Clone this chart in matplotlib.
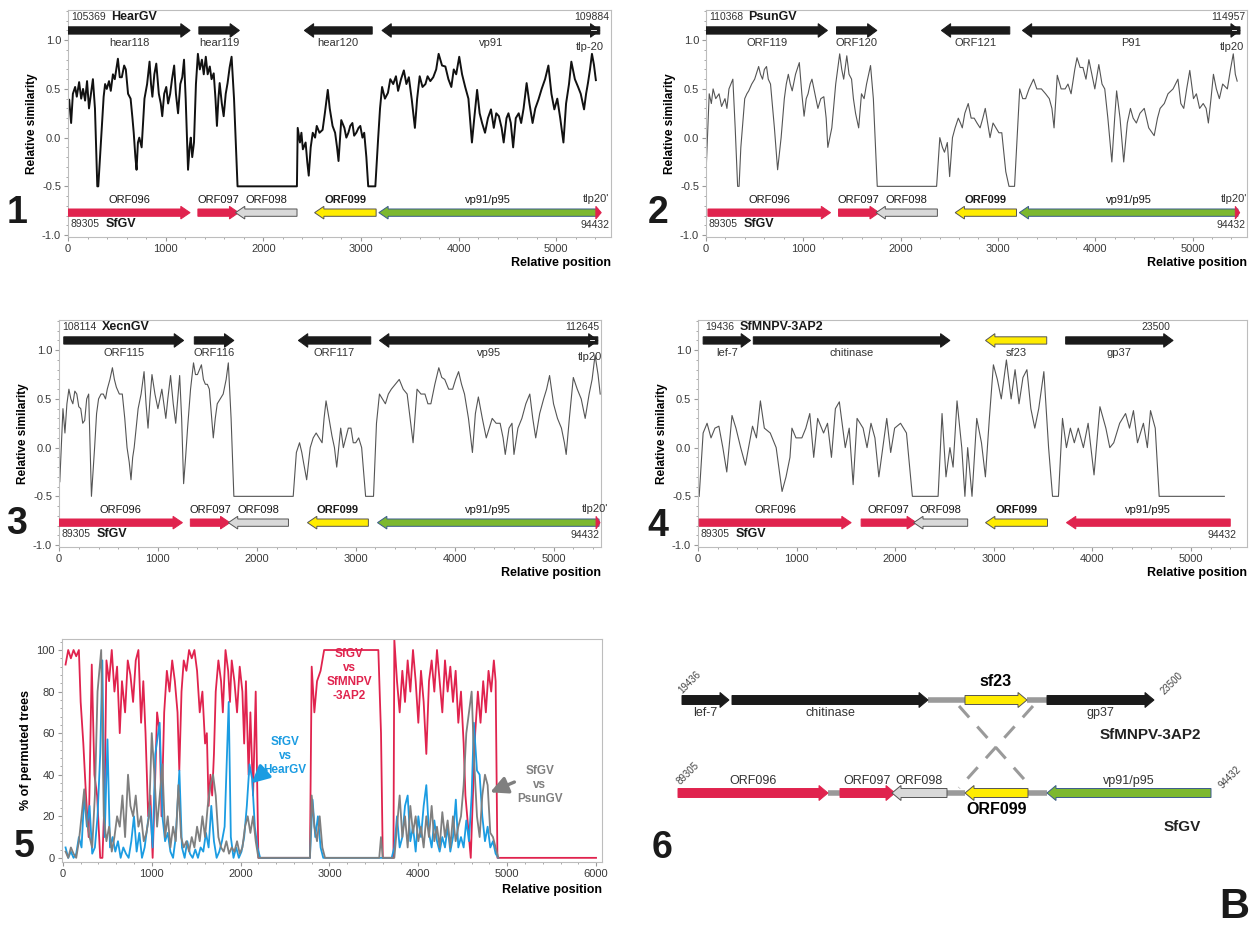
import numpy as np
import matplotlib
matplotlib.use("Agg")
import matplotlib.pyplot as plt
from matplotlib.patches import FancyArrow
from matplotlib.ticker import MultipleLocator, FormatStrFormatter

plt.rcParams["font.family"] = ["Liberation Sans", "DejaVu Sans"]
plt.rcParams["axes.unicode_minus"] = False

W, H = 1251, 926

RED = "#e0234e"
GREEN = "#7cb82f"
YELLOW = "#ffec00"
LGRAY = "#d9d9d9"
BLUE = "#1b9ce2"
DGRAY = "#7f7f7f"
GENE_FC = {"k": "#1a1a1a", "r": RED, "g": GREEN, "y": YELLOW, "w": LGRAY}
GENE_EC = {"k": "#1a1a1a", "r": RED, "g": "#3b5b8c", "y": "#555555", "w": "#555555"}

# ---------------------------------------------------------------- data
# similarity profiles: (relative position, relative similarity)
sim_hear = [
    (0, 0.30), (12, 0.39), (32, 0.15), (50, 0.45), (73, 0.52), (90, 0.42), (114, 0.57), (135, 0.40),
    (154, 0.50), (175, 0.38), (195, 0.58), (215, 0.30), (235, 0.45), (255, 0.60), (276, 0.30), (300, -0.50),
    (310, -0.50), (337, -0.05), (365, 0.42), (380, 0.55), (397, 0.50), (420, 0.58), (438, 0.48), (460, 0.65),
    (479, 0.60), (511, 0.81), (530, 0.62), (551, 0.62), (575, 0.74), (592, 0.70), (615, 0.45), (641, 0.40),
    (660, 0.20), (673, 0.05), (690, -0.20), (702, -0.33), (716, -0.05), (730, 0.00), (754, -0.10), (783, 0.40),
    (810, 0.55), (835, 0.78), (850, 0.55), (864, 0.42), (884, 0.65), (904, 0.76), (930, 0.45), (950, 0.35),
    (965, 0.22), (985, 0.45), (1006, 0.52), (1025, 0.35), (1046, 0.45), (1065, 0.60), (1087, 0.74), (1105, 0.45),
    (1127, 0.25), (1150, 0.55), (1170, 0.62), (1188, 0.80), (1205, 0.40), (1229, -0.33), (1245, -0.10), (1257, 0.00),
    (1272, -0.20), (1290, -0.05), (1310, 0.55), (1330, 0.86), (1350, 0.70), (1371, 0.80), (1390, 0.65), (1411, 0.83),
    (1430, 0.65), (1452, 0.73), (1470, 0.60), (1492, 0.66), (1510, 0.40), (1525, 0.12), (1540, 0.40), (1553, 0.56),
    (1575, 0.35), (1594, 0.22), (1615, 0.45), (1634, 0.56), (1655, 0.72), (1675, 0.83), (1700, 0.40), (1736, -0.50),
    (2344, -0.50), (2352, 0.10), (2375, -0.05), (2390, 0.05), (2405, -0.12), (2433, -0.05), (2450, -0.25), (2465, -0.39),
    (2485, -0.10), (2506, 0.05), (2530, 0.00), (2547, 0.12), (2575, 0.05), (2607, 0.08), (2630, 0.25), (2660, 0.49),
    (2680, 0.30), (2709, 0.12), (2735, 0.05), (2755, -0.10), (2770, -0.24), (2798, 0.18), (2830, 0.10), (2850, 0.00),
    (2871, 0.05), (2890, 0.12), (2912, 0.15), (2930, 0.02), (2952, 0.05), (2975, 0.10), (2993, 0.12), (3015, 0.00),
    (3033, 0.05), (3055, -0.20), (3074, -0.50), (3147, -0.50), (3175, -0.02), (3195, 0.30), (3216, 0.52), (3245, 0.40),
    (3276, 0.46), (3300, 0.60), (3330, 0.55), (3358, 0.63), (3380, 0.48), (3410, 0.60), (3439, 0.69), (3465, 0.55),
    (3490, 0.62), (3520, 0.39), (3552, 0.10), (3575, 0.40), (3601, 0.63), (3630, 0.52), (3660, 0.55), (3682, 0.63),
    (3710, 0.58), (3740, 0.62), (3770, 0.70), (3795, 0.86), (3830, 0.74), (3864, 0.73), (3895, 0.60), (3925, 0.52),
    (3950, 0.70), (3975, 0.65), (4006, 0.83), (4035, 0.65), (4067, 0.52), (4100, 0.40), (4120, 0.15), (4136, -0.05),
    (4160, 0.20), (4189, 0.49), (4215, 0.25), (4240, 0.15), (4270, 0.05), (4300, 0.20), (4331, 0.29), (4360, 0.10),
    (4385, 0.25), (4412, 0.22), (4440, 0.10), (4461, -0.05), (4490, 0.20), (4510, 0.25), (4534, 0.15), (4558, -0.10),
    (4585, 0.20), (4615, 0.25), (4640, 0.15), (4665, 0.30), (4696, 0.56), (4725, 0.35), (4757, 0.15), (4785, 0.30),
    (4817, 0.39), (4850, 0.50), (4885, 0.60), (4919, 0.74), (4950, 0.45), (4980, 0.29), (5010, 0.40), (5040, 0.20),
    (5073, -0.05), (5100, 0.35), (5130, 0.55), (5154, 0.78), (5190, 0.60), (5223, 0.52), (5250, 0.45), (5284, 0.29),
    (5305, 0.45), (5324, 0.56), (5345, 0.70), (5365, 0.86), (5385, 0.75), (5405, 0.59),
]

sim_psun = [
    (0, -0.37), (33, 0.45), (55, 0.35), (73, 0.50), (100, 0.40), (134, 0.45), (160, 0.32), (195, 0.40),
    (215, 0.30), (236, 0.50), (276, 0.60), (300, 0.10), (325, -0.50), (340, -0.50), (358, -0.10), (398, 0.40),
    (420, 0.45), (439, 0.48), (470, 0.55), (500, 0.60), (541, 0.73), (560, 0.65), (581, 0.60), (600, 0.70),
    (622, 0.73), (640, 0.60), (663, 0.55), (703, 0.10), (736, -0.33), (772, 0.00), (805, 0.40), (825, 0.55),
    (846, 0.65), (866, 0.55), (886, 0.48), (920, 0.65), (959, 0.77), (985, 0.45), (1008, 0.22), (1030, 0.40),
    (1049, 0.45), (1070, 0.55), (1089, 0.60), (1120, 0.45), (1150, 0.30), (1180, 0.40), (1211, 0.42), (1235, 0.20),
    (1252, -0.10), (1293, 0.10), (1333, 0.55), (1374, 0.86), (1395, 0.70), (1415, 0.60), (1447, 0.84), (1470, 0.65),
    (1496, 0.60), (1515, 0.40), (1537, 0.25), (1569, 0.10), (1598, 0.45), (1625, 0.40), (1650, 0.55), (1691, 0.74),
    (1720, 0.40), (1760, -0.50), (2370, -0.50), (2403, 0.00), (2430, -0.10), (2451, -0.15), (2480, -0.05), (2504, -0.40),
    (2533, 0.00), (2560, 0.10), (2593, 0.20), (2615, 0.15), (2634, 0.10), (2660, 0.25), (2695, 0.35), (2725, 0.20),
    (2756, 0.20), (2785, 0.15), (2817, 0.10), (2845, 0.20), (2870, 0.30), (2895, 0.15), (2919, 0.00), (2950, 0.15),
    (2980, 0.10), (3010, 0.05), (3040, 0.05), (3081, -0.35), (3114, -0.50), (3171, -0.50), (3224, 0.50), (3255, 0.40),
    (3285, 0.40), (3320, 0.50), (3366, 0.60), (3400, 0.50), (3447, 0.50), (3490, 0.45), (3528, 0.40), (3555, 0.30),
    (3577, 0.10), (3610, 0.64), (3650, 0.50), (3691, 0.50), (3720, 0.55), (3752, 0.45), (3790, 0.70), (3813, 0.82),
    (3845, 0.72), (3874, 0.72), (3905, 0.60), (3935, 0.80), (3965, 0.65), (3996, 0.50), (4037, 0.75), (4070, 0.55),
    (4098, 0.50), (4130, 0.20), (4171, -0.25), (4200, 0.20), (4220, 0.48), (4255, 0.20), (4293, -0.25), (4330, 0.15),
    (4362, 0.30), (4390, 0.20), (4423, 0.15), (4460, 0.25), (4504, 0.30), (4550, 0.10), (4606, 0.02), (4640, 0.20),
    (4667, 0.30), (4710, 0.35), (4748, 0.45), (4800, 0.50), (4850, 0.60), (4880, 0.35), (4910, 0.30), (4940, 0.50),
    (4972, 0.69), (5010, 0.40), (5040, 0.45), (5073, 0.30), (5110, 0.35), (5140, 0.30), (5163, 0.15), (5190, 0.40),
    (5215, 0.65), (5245, 0.50), (5276, 0.40), (5310, 0.55), (5358, 0.50), (5390, 0.70), (5419, 0.86), (5440, 0.65),
    (5459, 0.58),
]

sim_xecn = [
    (8, -0.35), (40, 0.40), (60, 0.15), (80, 0.45), (100, 0.60), (120, 0.50), (140, 0.45), (160, 0.58),
    (180, 0.55), (200, 0.42), (220, 0.40), (240, 0.25), (260, 0.28), (280, 0.50), (300, 0.55), (328, -0.50),
    (360, 0.00), (380, 0.35), (400, 0.50), (425, 0.55), (448, 0.55), (470, 0.50), (488, 0.60), (515, 0.70),
    (540, 0.82), (560, 0.70), (580, 0.62), (610, 0.55), (640, 0.55), (665, 0.30), (688, 0.00), (710, -0.15),
    (728, -0.33), (745, -0.10), (760, 0.00), (780, 0.20), (800, 0.40), (830, 0.55), (860, 0.78), (880, 0.45),
    (900, 0.20), (920, 0.50), (940, 0.75), (970, 0.55), (1000, 0.40), (1020, 0.50), (1040, 0.60), (1060, 0.45),
    (1080, 0.30), (1100, 0.50), (1128, 0.74), (1155, 0.45), (1180, 0.25), (1200, 0.50), (1220, 0.74), (1240, 0.30),
    (1260, -0.37), (1280, -0.10), (1300, 0.20), (1330, 0.60), (1360, 0.87), (1380, 0.75), (1400, 0.75), (1420, 0.80),
    (1440, 0.85), (1460, 0.70), (1480, 0.65), (1500, 0.65), (1520, 0.60), (1540, 0.35), (1560, 0.10), (1580, 0.30),
    (1600, 0.45), (1630, 0.50), (1660, 0.55), (1690, 0.70), (1712, 0.87), (1740, 0.30), (1768, -0.50), (2368, -0.50),
    (2400, -0.05), (2432, 0.05), (2455, -0.05), (2472, -0.15), (2504, -0.33), (2540, 0.00), (2570, 0.10), (2600, 0.15),
    (2630, 0.10), (2660, 0.05), (2680, 0.30), (2700, 0.48), (2730, 0.30), (2760, 0.12), (2785, 0.00), (2808, -0.20),
    (2848, 0.20), (2875, 0.00), (2900, 0.10), (2925, 0.20), (2952, 0.20), (2975, 0.05), (3000, 0.05), (3030, 0.10),
    (3060, 0.00), (3100, -0.50), (3180, -0.50), (3210, 0.25), (3240, 0.55), (3270, 0.50), (3300, 0.45), (3330, 0.55),
    (3360, 0.60), (3400, 0.65), (3440, 0.70), (3480, 0.60), (3520, 0.55), (3550, 0.30), (3580, 0.05), (3620, 0.60),
    (3660, 0.55), (3700, 0.55), (3730, 0.45), (3760, 0.45), (3800, 0.65), (3840, 0.82), (3870, 0.72), (3900, 0.70),
    (3940, 0.60), (3980, 0.60), (4010, 0.70), (4040, 0.78), (4070, 0.65), (4100, 0.55), (4140, 0.30), (4180, -0.05),
    (4210, 0.35), (4240, 0.52), (4280, 0.30), (4320, 0.10), (4350, 0.20), (4380, 0.30), (4420, 0.25), (4460, 0.25),
    (4490, 0.10), (4512, -0.07), (4550, 0.20), (4580, 0.25), (4600, -0.07), (4640, 0.20), (4680, 0.30), (4720, 0.45),
    (4760, 0.55), (4790, 0.30), (4820, 0.10), (4860, 0.35), (4900, 0.50), (4930, 0.60), (4960, 0.74), (5000, 0.45),
    (5040, 0.30), (5080, 0.20), (5110, 0.05), (5128, -0.07), (5160, 0.30), (5200, 0.72), (5240, 0.60), (5280, 0.50),
    (5300, 0.40), (5320, 0.30), (5360, 0.55), (5390, 0.70), (5420, 0.95), (5450, 0.75), (5472, 0.55),
]

sim_sfmnpv = [
    (12, -0.50), (52, 0.15), (92, 0.25), (132, 0.10), (172, 0.20), (212, 0.22), (252, 0.00), (292, -0.25),
    (345, 0.33), (385, 0.20), (433, 0.00), (481, -0.18), (513, 0.00), (553, 0.22), (593, 0.10), (633, 0.48),
    (673, 0.20), (733, 0.15), (793, 0.00), (853, -0.45), (893, -0.30), (933, -0.10), (953, 0.20), (994, 0.10),
    (1054, 0.10), (1094, 0.20), (1134, 0.35), (1174, -0.10), (1214, 0.30), (1274, 0.15), (1314, 0.25), (1354, -0.10),
    (1394, 0.40), (1434, 0.47), (1494, 0.00), (1534, 0.20), (1574, -0.38), (1614, 0.30), (1675, 0.20), (1715, 0.00),
    (1755, 0.25), (1795, 0.10), (1835, -0.30), (1875, 0.00), (1915, 0.30), (1955, -0.05), (1995, 0.20), (2055, 0.25),
    (2115, 0.15), (2175, -0.50), (2436, -0.50), (2476, 0.35), (2516, -0.30), (2556, 0.00), (2588, -0.20), (2628, 0.48),
    (2676, 0.00), (2708, -0.50), (2736, 0.00), (2780, -0.50), (2828, 0.30), (2876, 0.05), (2916, -0.30), (2956, 0.30),
    (2997, 0.85), (3037, 0.70), (3077, 0.50), (3129, 0.90), (3177, 0.50), (3217, 0.80), (3257, 0.45), (3297, 0.72),
    (3337, 0.80), (3377, 0.40), (3417, 0.20), (3457, 0.40), (3509, 0.78), (3557, 0.00), (3597, -0.50), (3657, -0.50),
    (3698, 0.30), (3738, 0.00), (3778, 0.20), (3818, 0.05), (3858, 0.20), (3910, 0.00), (3958, 0.25), (4018, -0.28),
    (4078, 0.42), (4138, 0.20), (4178, 0.00), (4218, 0.05), (4278, 0.25), (4338, 0.35), (4378, 0.20), (4418, 0.38),
    (4459, 0.05), (4519, 0.25), (4559, 0.00), (4591, 0.38), (4639, 0.20), (4679, -0.50), (5340, -0.50),
]

# % of permuted trees
perm_sfmnpv = [
    (30, 93), (60, 100), (90, 96), (120, 100), (150, 97), (180, 100), (200, 75), (230, 55), (260, 30), (290, 10),
    (325, 93), (355, 40), (385, 30), (420, 0), (445, 0), (470, 30), (490, 95), (520, 85), (550, 100), (580, 80),
    (610, 92), (640, 60), (665, 85), (700, 70), (730, 95), (760, 88), (790, 75), (820, 95), (850, 100), (880, 65),
    (905, 85), (930, 60), (960, 20), (985, 30), (1010, 0), (1040, 40), (1060, 70), (1090, 60), (1110, 20), (1140, 70),
    (1170, 90), (1200, 80), (1230, 95), (1260, 85), (1290, 70), (1310, 42), (1335, 80), (1360, 95), (1390, 90),
    (1420, 100), (1450, 96), (1480, 100), (1510, 90), (1540, 70), (1570, 80), (1600, 55), (1620, 60), (1640, 25),
    (1660, 40), (1680, 30), (1700, 50), (1720, 80), (1750, 95), (1780, 85), (1800, 70), (1830, 100), (1860, 90),
    (1880, 75), (1900, 95), (1930, 85), (1960, 70), (1990, 92), (2020, 80), (2040, 55), (2060, 85), (2090, 40),
    (2110, 70), (2140, 30), (2170, 80), (2200, 0), (2780, 0), (2800, 92), (2830, 70), (2860, 85), (2900, 90),
    (2940, 100), (3550, 100), (3580, 60), (3600, 0), (3720, 0), (3730, 105), (3760, 85), (3790, 70), (3820, 90),
    (3850, 75), (3880, 95), (3910, 80), (3940, 100), (3970, 85), (4000, 65), (4030, 90), (4060, 75), (4090, 50),
    (4120, 85), (4150, 95), (4180, 80), (4210, 100), (4240, 85), (4270, 70), (4300, 95), (4330, 80), (4360, 92),
    (4390, 75), (4420, 90), (4450, 65), (4480, 80), (4510, 55), (4530, 30), (4560, 15), (4590, 0), (4610, 25),
    (4640, 60), (4670, 80), (4700, 65), (4730, 85), (4760, 70), (4790, 90), (4820, 80), (4850, 95), (4870, 85),
    (4890, 0), (6000, 0),
]

perm_hear = [
    (30, 5), (60, 0), (90, 3), (120, 0), (150, 2), (180, 10), (210, 5), (240, 30), (270, 15), (300, 25),
    (330, 2), (360, 5), (390, 20), (420, 50), (444, 95), (470, 10), (502, 57), (530, 5), (560, 10), (590, 3),
    (620, 8), (650, 0), (680, 5), (710, 2), (740, 0), (770, 8), (800, 20), (830, 3), (860, 12), (890, 0),
    (920, 5), (950, 15), (980, 25), (1010, 5), (1040, 50), (1089, 65), (1120, 20), (1150, 8), (1180, 12), (1210, 3),
    (1240, 0), (1270, 10), (1311, 42), (1340, 5), (1370, 0), (1400, 8), (1430, 2), (1460, 0), (1490, 4), (1520, 0),
    (1550, 5), (1580, 3), (1610, 12), (1640, 5), (1670, 25), (1700, 8), (1730, 0), (1760, 3), (1790, 8), (1820, 15),
    (1866, 75), (1890, 10), (1920, 0), (1950, 5), (1980, 0), (2010, 3), (2040, 10), (2070, 25), (2100, 45), (2130, 38),
    (2160, 15), (2190, 5), (2220, 0), (2780, 0), (2810, 28), (2840, 10), (2870, 20), (2900, 5), (2930, 0), (3700, 0),
    (3730, 5), (3760, 20), (3790, 5), (3820, 10), (3850, 25), (3880, 30), (3910, 8), (3940, 15), (3970, 3), (4000, 20),
    (4030, 10), (4060, 25), (4090, 35), (4120, 12), (4150, 5), (4180, 18), (4210, 8), (4240, 3), (4270, 10), (4300, 5),
    (4330, 15), (4360, 3), (4390, 10), (4422, 28), (4450, 5), (4480, 10), (4510, 5), (4540, 18), (4570, 8), (4600, 30),
    (4625, 65), (4660, 42), (4690, 40), (4720, 20), (4750, 8), (4780, 15), (4810, 5), (4840, 8), (4870, 2), (4900, 0),
]

perm_psun = [
    (30, 3), (60, 0), (90, 5), (120, 2), (150, 0), (180, 8), (210, 20), (240, 33), (270, 18), (300, 10),
    (330, 5), (360, 30), (390, 80), (431, 100), (460, 20), (490, 8), (520, 15), (550, 3), (580, 10), (610, 20),
    (640, 15), (670, 30), (700, 10), (733, 40), (760, 25), (790, 20), (820, 30), (850, 15), (880, 20), (910, 8),
    (940, 12), (970, 20), (1000, 60), (1030, 40), (1060, 15), (1090, 30), (1120, 45), (1150, 10), (1180, 20), (1210, 5),
    (1240, 15), (1270, 8), (1300, 35), (1330, 10), (1360, 5), (1390, 8), (1420, 3), (1450, 10), (1480, 5), (1510, 15),
    (1540, 8), (1570, 20), (1600, 10), (1630, 25), (1660, 35), (1690, 40), (1720, 30), (1750, 10), (1780, 5), (1810, 3),
    (1840, 8), (1870, 2), (1900, 5), (1930, 3), (1960, 8), (1990, 2), (2020, 5), (2050, 15), (2080, 20), (2110, 12),
    (2140, 20), (2170, 8), (2200, 0), (2780, 0), (2800, 30), (2830, 15), (2860, 8), (2890, 20), (2920, 5), (2950, 0),
    (3560, 0), (3580, 10), (3600, 0), (3730, 0), (3760, 15), (3790, 30), (3820, 10), (3850, 20), (3880, 5), (3910, 25),
    (3940, 12), (3970, 20), (4000, 8), (4030, 15), (4060, 5), (4090, 20), (4120, 10), (4150, 25), (4180, 8), (4210, 15),
    (4240, 5), (4270, 22), (4300, 10), (4330, 18), (4360, 5), (4390, 20), (4420, 8), (4450, 15), (4480, 20), (4510, 35),
    (4540, 60), (4570, 70), (4600, 80), (4630, 45), (4660, 20), (4690, 10), (4720, 30), (4750, 40), (4780, 35), (4810, 12),
    (4840, 10), (4870, 5), (4900, 0),
]

# gene tracks: (name, start, end, strand, colour key)
hear_genes = [("hear118", 0, 1250, 1, "k"), ("hear119", 1340, 1755, 1, "k"),
              ("hear120", 2420, 3115, -1, "k"), ("vp91", 3215, 5445, -1, "k"), ("tlp-20", 5350, 5445, 1, "k")]
psun_genes = [("ORF119", 0, 1248, 1, "k"), ("ORF120", 1341, 1756, 1, "k"),
              ("ORF121", 2419, 3122, -1, "k"), ("P91", 3252, 5488, -1, "k"), ("tlp20", 5395, 5488, 1, "k")]
xecn_genes = [("ORF115", 48, 1260, 1, "k"), ("ORF116", 1368, 1768, 1, "k"),
              ("ORF117", 2420, 3152, -1, "k"), ("vp95", 3240, 5448, -1, "k"), ("tlp20", 5355, 5448, 1, "k")]
sfmnpv_genes = [("lef-7", 52, 533, 1, "k"), ("chitinase", 561, 2556, 1, "k"),
                ("sf23", 2917, 3538, -1, "y"), ("gp37", 3730, 4820, 1, "k")]

sfgv_vs_hear = [("ORF096", 0, 1250, 1, "r"), ("ORF097", 1330, 1748, 1, "r"), ("ORF098", 1715, 2345, -1, "w"),
                ("ORF099", 2525, 3155, -1, "y"), ("vp91/p95", 3183, 5426, -1, "g"), ("tlp20'", 5405, 5460, 1, "r")]
sfgv_vs_psun = [("ORF096", 20, 1280, 1, "r"), ("ORF097", 1362, 1780, 1, "r"), ("ORF098", 1748, 2378, -1, "w"),
                ("ORF099", 2561, 3191, -1, "y"), ("vp91/p95", 3220, 5467, -1, "g"), ("tlp20'", 5440, 5485, 1, "r")]
sfgv_vs_xecn = [("ORF096", 0, 1248, 1, "r"), ("ORF097", 1328, 1728, 1, "r"), ("ORF098", 1712, 2320, -1, "w"),
                ("ORF099", 2512, 3128, -1, "y"), ("vp91/p95", 3220, 5460, -1, "g"), ("tlp20'", 5430, 5470, 1, "r")]
sfgv_vs_sfmnpv = [("ORF096", 12, 1554, 1, "r"), ("ORF097", 1655, 2216, 1, "r"), ("ORF098", 2188, 2736, -1, "w"),
                  ("ORF099", 2917, 3546, -1, "y"), ("vp91/p95", 3738, 5400, -1, "r")]

# genome names and end coordinates
hear_ends = ("105369", "HearGV", "109884")
psun_ends = ("110368", "PsunGV", "114957")
xecn_ends = ("108114", "XecnGV", "112645")
sfmnpv_ends = ("19436", "SfMNPV-3AP2", "23500")
sfgv_ends = ("89305", "SfGV", "94432")

# schematic of panel 6 (diagram units)
diag_sfmnpv = [("lef-7", 52, 99, 1, "k"), ("chitinase", 102, 298, 1, "k"),
               ("sf23", 335, 397, 1, "y"), ("gp37", 417, 524, 1, "k")]
diag_sfmnpv_links = [(298, 335), (397, 417)]
diag_sfgv = [("ORF096", 48, 198, 1, "r"), ("ORF097", 210, 265, 1, "r"), ("ORF098", 262, 317, -1, "w"),
             ("ORF099", 335, 398, -1, "y"), ("vp91/p95", 417, 581, -1, "g")]
diag_sfgv_links = [(198, 210), (317, 335), (398, 417)]


# ---------------------------------------------------------------- helpers
def px_axes(fig, left, top, right, bottom):
    return fig.add_axes([left / W, 1 - bottom / H, (right - left) / W, (bottom - top) / H])


def draw_gene(ax, start, end, strand, y, key, body, head, hl, lw=0.7):
    length = end - start
    hl = min(hl, length)
    x0, dx = (start, length) if strand > 0 else (end, -length)
    ax.add_patch(FancyArrow(x0, y, dx, 0, width=body, head_width=head, head_length=hl,
                            length_includes_head=True, fc=GENE_FC[key], ec=GENE_EC[key],
                            lw=lw, zorder=3))


def style_axes(ax):
    for s in ax.spines.values():
        s.set_color("#bdbdbd")
        s.set_linewidth(0.8)
    ax.tick_params(which="both", direction="out", colors="#9a9a9a", labelcolor="#3a3a3a",
                   labelsize=8, pad=2)
    ax.tick_params(which="major", length=3)
    ax.tick_params(which="minor", length=1.6)


def name_pair(ax, x, y, num, name, size=7.5, bold_size=9):
    t = ax.text(x, y, num, fontsize=size, color="#333333", va="center", ha="left")
    ax.annotate(name, xy=(1, 0.5), xycoords=t, xytext=(4, 0), textcoords="offset points",
                va="center", ha="left", fontsize=bold_size, weight="bold", color="#1a1a1a")


def similarity_panel(ax, curve, xmax, top, top_ends, bottom, line_color, lw,
                     top_right_x, bottom_right_x, left_x=30):
    x, y = np.array(curve).T
    ax.plot(x, y, color=line_color, lw=lw, zorder=2)
    ax.set_xlim(0, xmax)
    ax.set_ylim(-1.02, 1.31)
    style_axes(ax)
    ax.set_xticks(np.arange(0, 6000, 1000))
    ax.xaxis.set_minor_locator(MultipleLocator(200))
    ax.set_yticks([-1.0, -0.5, 0.0, 0.5, 1.0])
    ax.yaxis.set_minor_locator(MultipleLocator(0.1))
    ax.yaxis.set_major_formatter(FormatStrFormatter("%.1f"))
    ax.set_ylabel("Relative similarity", fontsize=8.5, weight="bold", labelpad=3)
    ax.text(1.0, -0.115, "Relative position", transform=ax.transAxes, ha="right", va="center",
            fontsize=9, weight="bold")

    for name, s, e, strand, key in top:
        draw_gene(ax, s, e, strand, 1.10, key, 0.075, 0.14, 95)
        if name.startswith("tlp"):
            ax.plot([s + 10, e - 40], [1.10, 1.10], color="white", lw=0.6, zorder=4)
            ax.text(e + 40, 0.935, name, ha="right", va="center", fontsize=8, color="#333333")
        else:
            ax.text((s + e) / 2, 0.975, name, ha="center", va="center", fontsize=8, color="#333333")
    for name, s, e, strand, key in bottom:
        draw_gene(ax, s, e, strand, -0.77, key, 0.075, 0.13, 95)
        if name.startswith("tlp"):
            ax.text(e + 80, -0.635, name, ha="right", va="center", fontsize=8, color="#333333")
        else:
            ax.text((s + e) / 2, -0.645, name, ha="center", va="center", fontsize=8, color="#1a1a1a",
                    weight="bold" if name == "ORF099" else "normal")

    name_pair(ax, left_x, 1.235, top_ends[0], top_ends[1])
    ax.text(top_right_x, 1.235, top_ends[2], ha="right", va="center", fontsize=7.5, color="#333333")
    name_pair(ax, 30, -0.885, sfgv_ends[0], sfgv_ends[1])
    ax.text(bottom_right_x, -0.9, sfgv_ends[2], ha="right", va="center", fontsize=7.5, color="#333333")


# ---------------------------------------------------------------- figure
fig = plt.figure(figsize=(W / 100, H / 100), dpi=100)

ax1 = px_axes(fig, 68, 10, 611, 237)
similarity_panel(ax1, sim_hear, 5560, hear_genes, hear_ends, sfgv_vs_hear, "#111111", 1.4, 5540, 5540)
ax2 = px_axes(fig, 706, 10, 1247, 237)
similarity_panel(ax2, sim_psun, 5560, psun_genes, psun_ends, sfgv_vs_psun, "#555555", 0.8, 5540, 5540)
ax3 = px_axes(fig, 59, 320, 601, 547)
similarity_panel(ax3, sim_xecn, 5480, xecn_genes, xecn_ends, sfgv_vs_xecn, "#555555", 0.8, 5460, 5460)
ax4 = px_axes(fig, 698, 320, 1247, 547)
similarity_panel(ax4, sim_sfmnpv, 5570, sfmnpv_genes, sfmnpv_ends, sfgv_vs_sfmnpv, "#555555", 0.8,
                 4790, 5460, left_x=70)

# panel 5
ax5 = px_axes(fig, 62, 639, 602, 862)
style_axes(ax5)
for curve, col in [(perm_sfmnpv, RED), (perm_hear, BLUE), (perm_psun, DGRAY)]:
    x, y = np.array(curve).T
    ax5.plot(x, y, color=col, lw=1.3, zorder=2)
ax5.set_xlim(-10, 6067)
ax5.set_ylim(-2, 105.3)
ax5.set_xticks(np.arange(0, 7000, 1000))
ax5.xaxis.set_minor_locator(MultipleLocator(200))
ax5.set_yticks(np.arange(0, 101, 20))
ax5.yaxis.set_minor_locator(MultipleLocator(4))
ax5.set_ylabel("% of permuted trees", fontsize=9, weight="bold", labelpad=3)
ax5.text(1.0, -0.125, "Relative position", transform=ax5.transAxes, ha="right", va="center",
         fontsize=9, weight="bold")
ax5.text(3220, 88, "SfGV\nvs\nSfMNPV\n-3AP2", color=RED, ha="center", va="center",
         fontsize=8.5, weight="bold", linespacing=1.25)
ax5.text(2500, 49, "SfGV\nvs\nHearGV", color=BLUE, ha="center", va="center",
         fontsize=8.5, weight="bold", linespacing=1.25)
ax5.text(5365, 35, "SfGV\nvs\nPsunGV", color=DGRAY, ha="center", va="center",
         fontsize=8.5, weight="bold", linespacing=1.25)
ax5.annotate("", xy=(2100, 35), xytext=(2310, 43),
             arrowprops=dict(arrowstyle="-|>", color=BLUE, lw=2.4, mutation_scale=26))
ax5.annotate("", xy=(4780, 31), xytext=(5110, 37),
             arrowprops=dict(arrowstyle="-|>", color=DGRAY, lw=2.4, mutation_scale=26))

# panel 6: schematic
ax6 = fig.add_axes([630 / W, 0, 621 / W, 296 / H])
ax6.set_xlim(0, 621)
ax6.set_ylim(296, 0)
ax6.axis("off")
for row_y, genes, links in [(70, diag_sfmnpv, diag_sfmnpv_links), (163, diag_sfgv, diag_sfgv_links)]:
    for a, b in links:
        ax6.plot([a, b], [row_y, row_y], color="#9a9a9a", lw=4, solid_capstyle="butt", zorder=2)
    for name, s, e, strand, key in genes:
        draw_gene(ax6, s, e, strand, row_y, key, 9, 15, 9)
ax6.plot([329, 401], [76, 157], color="#9a9a9a", lw=2.2, ls=(0, (5, 4)), zorder=1)
ax6.plot([403, 329], [76, 158], color="#9a9a9a", lw=2.2, ls=(0, (5, 4)), zorder=1)
for name, s, e, _, _ in diag_sfmnpv:
    if name == "sf23":
        ax6.text((s + e) / 2, 52, name, ha="center", va="center", fontsize=11.5, weight="bold")
    else:
        ax6.text((s + e) / 2, 83, name, ha="center", va="center", fontsize=9, color="#333333")
for name, s, e, _, _ in diag_sfgv:
    if name == "ORF099":
        ax6.text((s + e) / 2, 179, name, ha="center", va="center", fontsize=11.5, weight="bold")
    else:
        ax6.text((s + e) / 2, 151, name, ha="center", va="center", fontsize=9, color="#333333")
ax6.text(571, 105, sfmnpv_ends[1], ha="right", va="center", fontsize=11, weight="bold", color="#222222")
ax6.text(571, 197, sfgv_ends[1], ha="right", va="center", fontsize=11, weight="bold", color="#222222")
ax6.text(60, 52, sfmnpv_ends[0], rotation=45, ha="center", va="center", fontsize=7, color="#444444")
ax6.text(542, 53, sfmnpv_ends[2], rotation=45, ha="center", va="center", fontsize=7, color="#444444")
ax6.text(58, 143, sfgv_ends[0], rotation=45, ha="center", va="center", fontsize=7, color="#444444")
ax6.text(600, 147, sfgv_ends[2], rotation=45, ha="center", va="center", fontsize=7, color="#444444")

# panel numbers
for lbl, px, py in [("1", 17, 213), ("2", 658, 213), ("3", 17, 524), ("4", 658, 526),
                    ("5", 24, 847), ("6", 662, 848)]:
    fig.text(px / W, 1 - py / H, lbl, ha="center", va="center", fontsize=27, weight="bold",
             color="#1a1a1a")
fig.text(1249 / W, 1 - 907 / H, "B", ha="right", va="center", fontsize=30, weight="bold", color="#1a1a1a")

fig.savefig("out.png", dpi=100)
